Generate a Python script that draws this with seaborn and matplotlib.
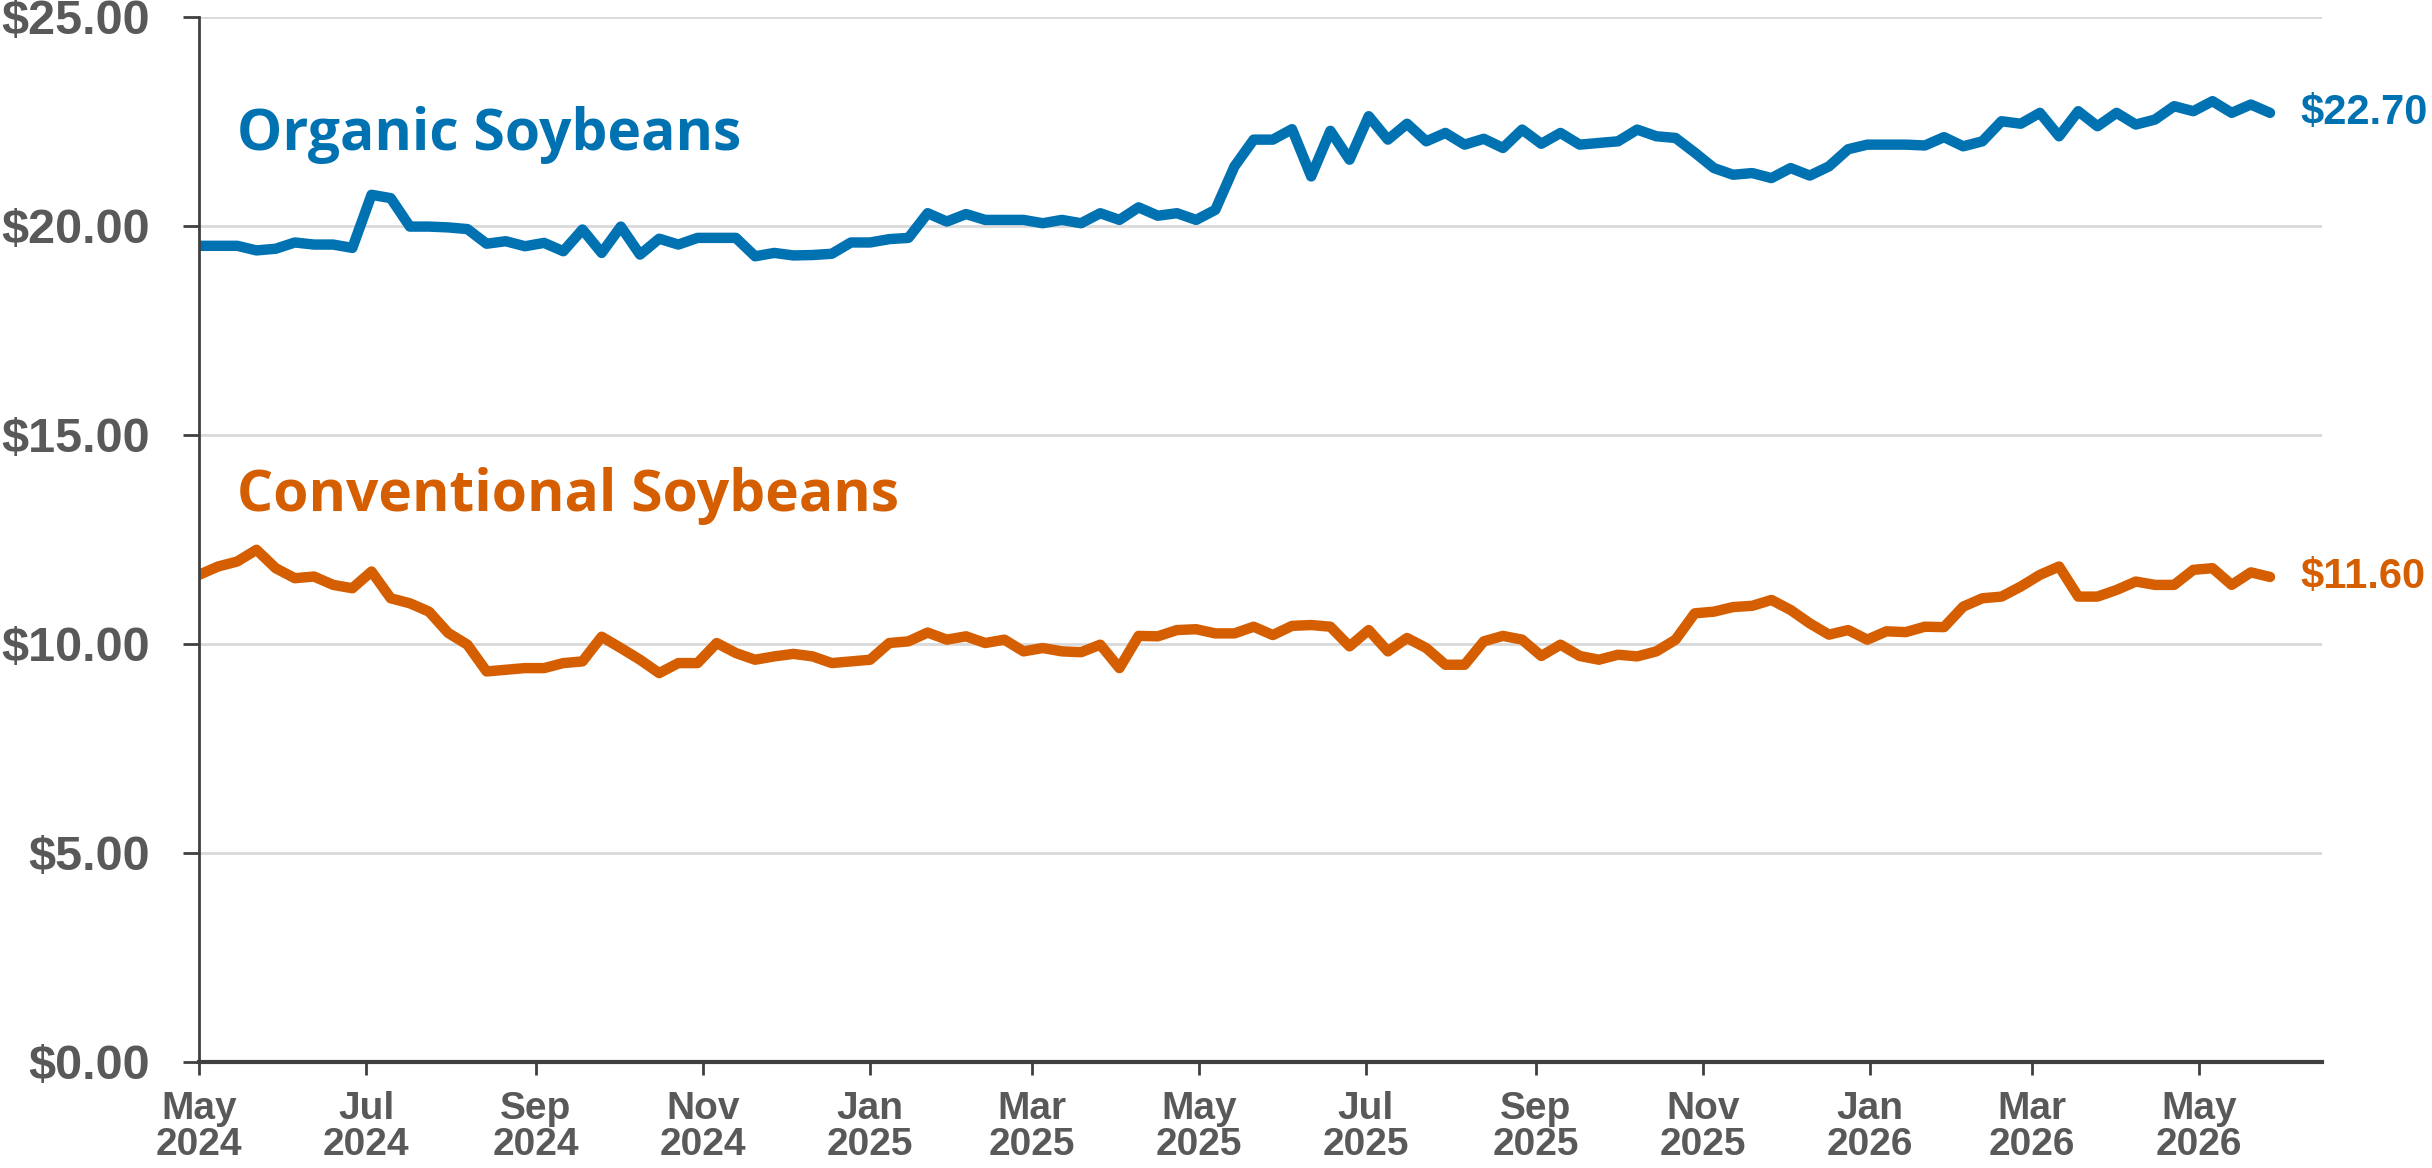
import matplotlib
matplotlib.use('Agg')
import matplotlib.pyplot as plt
import seaborn as sns
import pandas as pd

# weekly prices, $ per bushel
start_date = '2024-05-01'
organic = [
    19.52, 19.52, 19.52, 19.41, 19.45, 19.60, 19.55, 19.55, 19.47, 20.74,
    20.66, 19.98, 19.98, 19.96, 19.92, 19.57, 19.63, 19.51, 19.59, 19.39,
    19.91, 19.35, 19.98, 19.31, 19.69, 19.55, 19.71, 19.71, 19.71, 19.27,
    19.35, 19.29, 19.30, 19.33, 19.60, 19.60, 19.68, 19.71, 20.30, 20.10,
    20.28, 20.14, 20.14, 20.14, 20.06, 20.14, 20.06, 20.30, 20.14, 20.44,
    20.24, 20.30, 20.14, 20.38, 21.42, 22.06, 22.06, 22.31, 21.18, 22.27,
    21.58, 22.62, 22.06, 22.44, 22.02, 22.22, 21.94, 22.08, 21.86, 22.30,
    21.96, 22.22, 21.94, 21.98, 22.02, 22.30, 22.14, 22.10, 21.75, 21.38,
    21.22, 21.26, 21.14, 21.38, 21.20, 21.42, 21.83, 21.94, 21.94, 21.94,
    21.92, 22.12, 21.90, 22.02, 22.50, 22.44, 22.70, 22.14, 22.74, 22.38,
    22.70, 22.42, 22.54, 22.86, 22.74, 22.98, 22.70, 22.90, 22.70,
]
conventional = [
    11.65, 11.85, 11.97, 12.25, 11.81, 11.57, 11.61, 11.41, 11.33, 11.73,
    11.09, 10.97, 10.77, 10.26, 9.98, 9.34, 9.38, 9.42, 9.42, 9.54,
    9.58, 10.17, 9.90, 9.62, 9.30, 9.54, 9.54, 10.02, 9.78, 9.62,
    9.70, 9.76, 9.70, 9.54, 9.58, 9.62, 10.02, 10.06, 10.27, 10.10,
    10.18, 10.02, 10.10, 9.82, 9.90, 9.82, 9.80, 9.98, 9.42, 10.19,
    10.18, 10.33, 10.35, 10.25, 10.25, 10.41, 10.21, 10.43, 10.45, 10.41,
    9.94, 10.33, 9.82, 10.14, 9.90, 9.50, 9.50, 10.06, 10.19, 10.10,
    9.71, 9.98, 9.71, 9.62, 9.74, 9.70, 9.82, 10.10, 10.73, 10.77,
    10.88, 10.91, 11.05, 10.81, 10.49, 10.22, 10.33, 10.10, 10.30, 10.28,
    10.41, 10.40, 10.89, 11.09, 11.13, 11.37, 11.65, 11.85, 11.13, 11.13,
    11.29, 11.49, 11.41, 11.41, 11.77, 11.81, 11.41, 11.71, 11.60,
]
series_names = ['Organic Soybeans', 'Conventional Soybeans']
colors = ['#0072B2', '#D55E00']
y_ticks = [0, 5, 10, 15, 20, 25]
x_tick_dates = ['2024-05-01', '2024-07-01', '2024-09-01', '2024-11-01',
                '2025-01-01', '2025-03-01', '2025-05-01', '2025-07-01',
                '2025-09-01', '2025-11-01', '2026-01-01', '2026-03-01',
                '2026-05-01']
x_tick_labels = ['May\n2024', 'Jul\n2024', 'Sep\n2024', 'Nov\n2024',
                 'Jan\n2025', 'Mar\n2025', 'May\n2025', 'Jul\n2025',
                 'Sep\n2025', 'Nov\n2025', 'Jan\n2026', 'Mar\n2026',
                 'May\n2026']

dates = pd.date_range(start_date, periods=len(organic), freq='7D')
df = pd.DataFrame({'date': dates, series_names[0]: organic, series_names[1]: conventional})
long_df = df.melt(id_vars='date', var_name='series', value_name='price')

sns.set_theme(style='white')
tick_font = ['Liberation Sans', 'DejaVu Sans']
label_font = ['Open Sans', 'DejaVu Sans']
plt.rcParams['font.family'] = tick_font
plt.rcParams['font.weight'] = 'bold'

fig = plt.figure(figsize=(24.32, 11.68), dpi=100)
ax = fig.add_axes([0.0818, 0.0908, 0.873, 0.8949])

sns.lineplot(data=long_df, x='date', y='price', hue='series',
             palette=dict(zip(series_names, colors)), linewidth=7.5,
             legend=False, ax=ax, solid_capstyle='round')

ax.set_xlim(pd.Timestamp('2024-05-01'), pd.Timestamp('2026-06-15'))
ax.set_ylim(0, 25)
ax.set_xlabel('')
ax.set_ylabel('')

ax.set_yticks(y_ticks)
ax.set_yticklabels([f'${v:.2f}' for v in y_ticks])
ax.set_xticks(pd.to_datetime(x_tick_dates))
ax.set_xticklabels(x_tick_labels)
for lbl in ax.get_xticklabels():
    lbl.set_linespacing(1.0)

ax.tick_params(axis='y', length=11.5, width=2, pad=24, labelsize=35,
               labelcolor='#595959', color='#404040', left=True)
ax.tick_params(axis='x', length=9, width=2, pad=12, labelsize=28,
               labelcolor='#595959', color='#404040', bottom=True)

ax.grid(axis='y', color='#d9d9d9', linewidth=2)
ax.grid(axis='x', visible=False)
ax.set_axisbelow(True)

sns.despine(ax=ax)
ax.spines['left'].set_linewidth(2)
ax.spines['left'].set_color('#404040')
ax.spines['bottom'].set_linewidth(3)
ax.spines['bottom'].set_color('#404040')

# series names inside the plot
label_x = pd.Timestamp('2024-05-15')
ax.text(label_x, 21.8, series_names[0], color=colors[0], fontsize=41,
        fontweight='bold', family=label_font, va='baseline')
ax.text(label_x, 13.18, series_names[1], color=colors[1], fontsize=41,
        fontweight='bold', family=label_font, va='baseline')

# last values at the right end
for vals, c in zip([organic, conventional], colors):
    ax.annotate(f'${vals[-1]:.2f}', xy=(dates[-1], vals[-1]), xytext=(22, 0),
                textcoords='offset points', va='center', ha='left',
                color=c, fontsize=30, fontweight='bold', family=tick_font,
                annotation_clip=False)

fig.savefig('out.png', dpi=100, facecolor='white')
